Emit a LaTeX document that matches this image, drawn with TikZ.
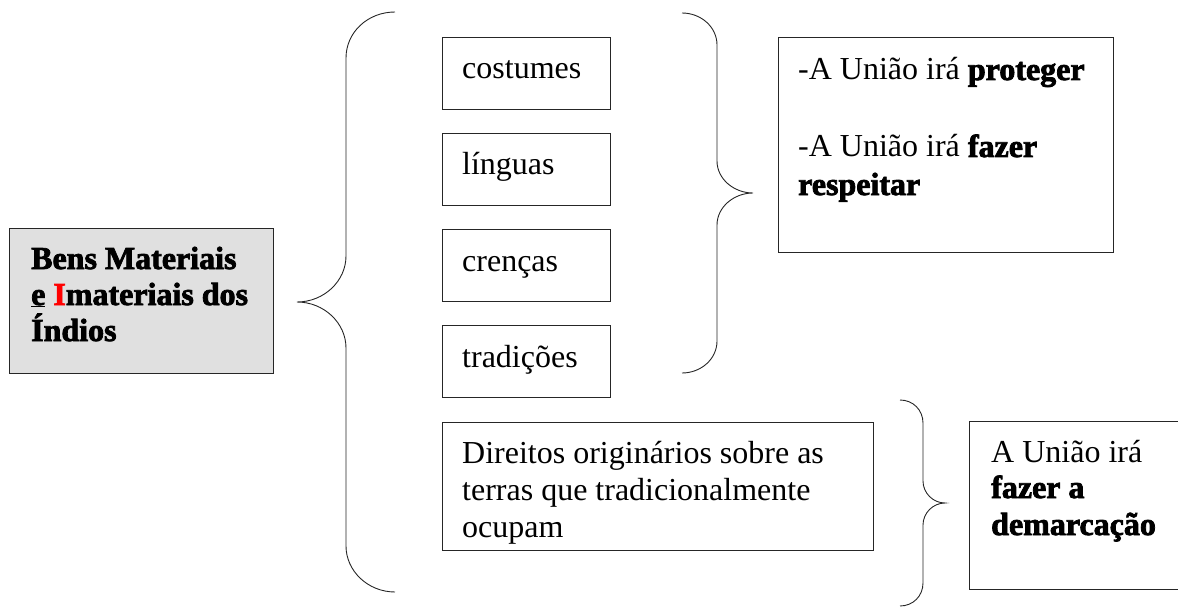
\documentclass[tikz,border=0pt]{standalone}
\usepackage{fontspec}
\setmainfont{Liberation Serif}[BoldFeatures={FakeBold=2.4}]
\begin{document}
\begin{tikzpicture}[x=1pt,y=-1pt,
  font=\fontsize{32}{37}\selectfont,
  box/.style={draw=black!85, line width=0.9pt, fill=white, inner sep=0pt, anchor=north west},
  txt/.style={anchor=base west, inner sep=0pt},
  brace/.style={draw=black!85, line width=0.9pt}]
\useasboundingbox (0,0) rectangle (1178,607);
\clip (0,0) rectangle (1178,607);

% main box
\node[box, fill=black!12, minimum width=264pt, minimum height=145pt] (main) at (9,228) {};
\node[txt] (m1) at (31,269) {\textbf{Bens Materiais}};
\node[txt] (m2) at (31,305) {\textbf{\underline{e} \textcolor{red}{I}materiais dos}};
\node[txt] (m3) at (31,341) {\textbf{Índios}};

% left brace
\draw[brace] (395,12) .. controls (368,12) and (346,32) .. (346,58)
  -- (346,256) .. controls (346,281) and (324,302) .. (297,302)
  .. controls (324,302) and (346,323) .. (346,348)
  -- (346,546) .. controls (346,571) and (368,592) .. (395,592);

% small boxes
\node[box, minimum width=168pt, minimum height=72pt] (b1) at (442,37) {};
\node[txt] (t1) at (462,79) {costumes};
\node[box, minimum width=168pt, minimum height=72pt] (b2) at (442,133) {};
\node[txt] (t2) at (462,175) {línguas};
\node[box, minimum width=168pt, minimum height=72pt] (b3) at (442,229) {};
\node[txt] (t3) at (462,271) {crenças};
\node[box, minimum width=168pt, minimum height=72pt] (b4) at (442,325) {};
\node[txt] (t4) at (462,367) {tradições};

% right brace 1
\draw[brace] (682,13) .. controls (701,13) and (717,27) .. (717,45)
  -- (717,161) .. controls (717,179) and (734,193) .. (753,193)
  .. controls (734,193) and (717,207) .. (717,225)
  -- (717,341) .. controls (717,359) and (701,373) .. (682,373);

% right box 1
\node[box, minimum width=335pt, minimum height=215pt] (r1) at (778,37) {};
\node[txt] (r1a) at (798,80) {-A União irá \textbf{proteger}};
\node[txt] (r1b) at (798,157) {-A União irá \textbf{fazer}};
\node[txt] (r1c) at (798,195) {\textbf{respeitar}};

% big bottom box
\node[box, minimum width=431pt, minimum height=128pt] (d) at (442,422) {};
\node[txt] (d1) at (462,463) {Direitos originários sobre as};
\node[txt] (d2) at (462,500) {terras que tradicionalmente};
\node[txt] (d3) at (462,537) {ocupam};

% brace 2
\draw[brace] (900,400) .. controls (913,400) and (923,410) .. (923,423)
  -- (923,481) .. controls (923,493) and (933,503) .. (945,503)
  .. controls (933,503) and (923,513) .. (923,525)
  -- (923,583) .. controls (923,596) and (913,606) .. (900,606);

% right box 2
\node[box, minimum width=220pt, minimum height=168pt] (r2) at (969,421) {};
\node[txt] (r2a) at (991,462) {A União irá};
\node[txt] (r2b) at (991,498) {\textbf{fazer a}};
\node[txt] (r2c) at (991,535) {\textbf{demarcação}};
\end{tikzpicture}
\end{document}
